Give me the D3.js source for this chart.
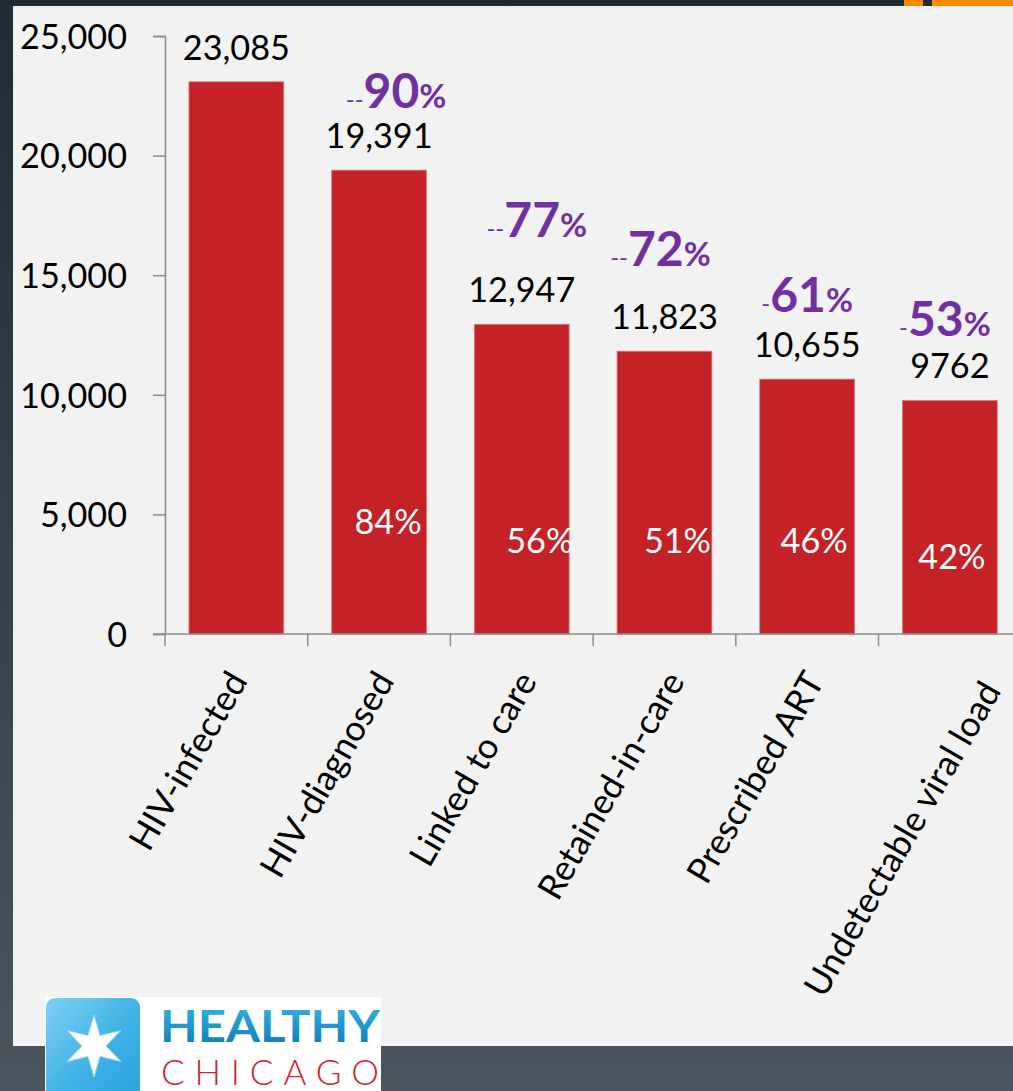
<!DOCTYPE html>
<html>
<head>
<meta charset="utf-8">
<script src="https://cdn.jsdelivr.net/npm/d3@7"></script>
<style>
  html, body { margin: 0; padding: 0; background: #2a323b; }
  svg { display: block; }
  text { font-family: Lato, "Noto Sans", sans-serif; }
</style>
</head>
<body>
<svg id="chart" width="1013" height="1091"></svg>
<script>
// HIV care continuum, Chicago
const categories = ["HIV-infected", "HIV-diagnosed", "Linked to care", "Retained-in-care", "Prescribed ART", "Undetectable viral load"];
const counts = [23085, 19391, 12947, 11823, 10655, 9762];
const countLabels = ["23,085", "19,391", "12,947", "11,823", "10,655", "9762"];
const shareOfInfected = [null, "84%", "56%", "51%", "46%", "42%"];
const stepDash = [null, "--", "--", "--", "-", "-"];
const stepPercent = [null, "90", "77", "72", "61", "53"];
const yTicks = [0, 5000, 10000, 15000, 20000, 25000];

// label placement tweaks (offsets from bar centre / baseline)
const shareDx = [0, 9, 18, 13, 7, 2];
const shareRise = [0, 100, 81, 81, 81, 65];
const stepDx = [0, 17, 15, -4, 0, -5];
const stepGap = [0, 40, 65, 63, 45, 42];
const catDx = [12, 16, 16, 21, 18, 52];
const catDy = [0, 0, 0, 0, 0, 10];

const W = 1013, H = 1091;
const svg = d3.select("#chart");
const defs = svg.append("defs");

// size a font so that a sample string spans a given width
function fitSize(sample, width, weight) {
  const t = svg.append("text").attr("font-size", 100).attr("font-weight", weight || 400).text(sample);
  const w = t.node().getComputedTextLength();
  t.remove();
  return 100 * width / w;
}
const numSize = fitSize("23,085", 107);
const catSize = fitSize("Undetectable viral load", 356);

// ---- slide background ----
const bg = defs.append("linearGradient").attr("id", "bgGrad")
  .attr("x1", 0).attr("y1", 0).attr("x2", 0).attr("y2", 1);
bg.append("stop").attr("offset", "0%").attr("stop-color", "#212933");
bg.append("stop").attr("offset", "100%").attr("stop-color", "#4c545d");
svg.append("rect").attr("width", W).attr("height", H).attr("fill", "url(#bgGrad)");
svg.append("rect").attr("x", 13).attr("y", 6).attr("width", W - 13).attr("height", 1040).attr("fill", "#f2f2f2");
svg.append("rect").attr("x", 904).attr("y", 0).attr("width", 19).attr("height", 6).attr("fill", "#ff8a00");
svg.append("rect").attr("x", 932).attr("y", 0).attr("width", W - 932).attr("height", 6).attr("fill", "#ff8a00");

// ---- scales ----
const x = d3.scaleBand().domain(categories).range([165, 165 + 6 * 142.7])
  .paddingInner(0.336).paddingOuter(0.168);
const y = d3.scaleLinear().domain([0, 25000]).range([634, 36]);
const fmt = d3.format(",");
const axisColor = "#8c8c8c";

// ---- y axis ----
const yAxis = d3.axisLeft(y).tickValues(yTicks).tickFormat(fmt).tickSize(12).tickPadding(26);
const gy = svg.append("g").attr("transform", "translate(165,0)").call(yAxis);
gy.select(".domain").attr("stroke", axisColor).attr("stroke-width", 1.5);
gy.selectAll(".tick line").attr("stroke", axisColor).attr("stroke-width", 1.5);
gy.selectAll(".tick text").attr("font-size", numSize).attr("fill", "#000")
  .attr("font-family", "Lato, sans-serif").attr("dy", "0.36em");

// ---- bars ----
const rows = categories.map((c, i) => ({ c, i, v: counts[i] }));
svg.append("g").selectAll("rect").data(rows).join("rect")
  .attr("x", d => x(d.c))
  .attr("y", d => y(d.v))
  .attr("width", x.bandwidth())
  .attr("height", d => y(0) - y(d.v))
  .attr("fill", "#c42227")
  .attr("stroke", "#d9777a").attr("stroke-width", 0.8);

// ---- x axis ----
svg.append("line").attr("x1", 153).attr("x2", W).attr("y1", y(0)).attr("y2", y(0))
  .attr("stroke", axisColor).attr("stroke-width", 1.5);
const bounds = categories.map(c => x(c) - x.step() * x.paddingOuter());
svg.append("g").selectAll("line").data(bounds).join("line")
  .attr("x1", d => d).attr("x2", d => d)
  .attr("y1", y(0)).attr("y2", y(0) + 12)
  .attr("stroke", axisColor).attr("stroke-width", 1.5);

const cx = d => x(d.c) + x.bandwidth() / 2;

svg.append("g").selectAll("text").data(rows).join("text")
  .attr("transform", d => `translate(${cx(d) + catDx[d.i]},${y(0) + 47 + catDy[d.i]}) rotate(-60)`)
  .attr("text-anchor", "end")
  .attr("font-size", catSize)
  .attr("fill", "#000")
  .text(d => d.c);

// ---- value labels above bars ----
svg.append("g").selectAll("text").data(rows).join("text")
  .attr("x", d => cx(d))
  .attr("y", d => y(d.v) - 22)
  .attr("text-anchor", "middle")
  .attr("font-size", numSize)
  .attr("fill", "#000")
  .text(d => countLabels[d.i]);

// ---- share of infected, inside bars ----
svg.append("g").selectAll("text").data(rows.filter(d => shareOfInfected[d.i])).join("text")
  .attr("x", d => cx(d) + shareDx[d.i])
  .attr("y", d => y(0) - shareRise[d.i])
  .attr("text-anchor", "middle")
  .attr("font-size", numSize)
  .attr("fill", "#fff")
  .text(d => shareOfInfected[d.i]);

// ---- step-to-step percentages ----
const steps = svg.append("g").selectAll("text").data(rows.filter(d => stepPercent[d.i])).join("text")
  .attr("x", d => cx(d) + stepDx[d.i])
  .attr("y", d => y(d.v) - 22 - stepGap[d.i])
  .attr("text-anchor", "middle")
  .attr("fill", "#7030a0");
steps.append("tspan").attr("font-size", 24).text(d => stepDash[d.i]);
steps.append("tspan").attr("font-size", 48).attr("font-weight", 700).text(d => stepPercent[d.i]);
steps.append("tspan").attr("font-size", 33).attr("font-weight", 700).text("%");

// ---- Healthy Chicago logo ----
const logo = svg.append("g");
logo.append("rect").attr("x", 45).attr("y", 997).attr("width", 336).attr("height", 94).attr("fill", "#fff");
const tile = defs.append("linearGradient").attr("id", "tileGrad")
  .attr("x1", 0).attr("y1", 0).attr("x2", 1).attr("y2", 1);
tile.append("stop").attr("offset", "0%").attr("stop-color", "#7fd0f2");
tile.append("stop").attr("offset", "55%").attr("stop-color", "#3fb2e6");
tile.append("stop").attr("offset", "100%").attr("stop-color", "#2aa2dc");
logo.append("rect").attr("x", 46).attr("y", 998).attr("width", 94).attr("height", 102)
  .attr("rx", 9).attr("fill", "url(#tileGrad)");
const starPts = d3.range(12).map(k => {
  const a = -Math.PI / 2 + k * Math.PI / 6;
  const r = k % 2 === 0 ? 31 : 12;
  return [94 + r * Math.cos(a), 1046 + r * Math.sin(a)];
});
logo.append("path").attr("d", d3.line()(starPts) + "Z")
  .attr("fill", "#fff").attr("stroke", "#9ad8f3").attr("stroke-width", 1);

const blueText = defs.append("linearGradient").attr("id", "blueText")
  .attr("x1", 0).attr("y1", 0).attr("x2", 0).attr("y2", 1);
blueText.append("stop").attr("offset", "0%").attr("stop-color", "#35b9ea");
blueText.append("stop").attr("offset", "100%").attr("stop-color", "#0d77b4");
logo.append("text").attr("x", 160).attr("y", 1042)
  .attr("font-size", 44).attr("font-weight", 700)
  .attr("textLength", 220).attr("lengthAdjust", "spacingAndGlyphs")
  .attr("fill", "url(#blueText)").text("HEALTHY");
logo.append("text").attr("x", 161).attr("y", 1085)
  .attr("font-size", 35).attr("font-weight", 300)
  .attr("textLength", 218).attr("lengthAdjust", "spacing")
  .attr("fill", "#d0222d").text("CHICAGO");
</script>
</body>
</html>
